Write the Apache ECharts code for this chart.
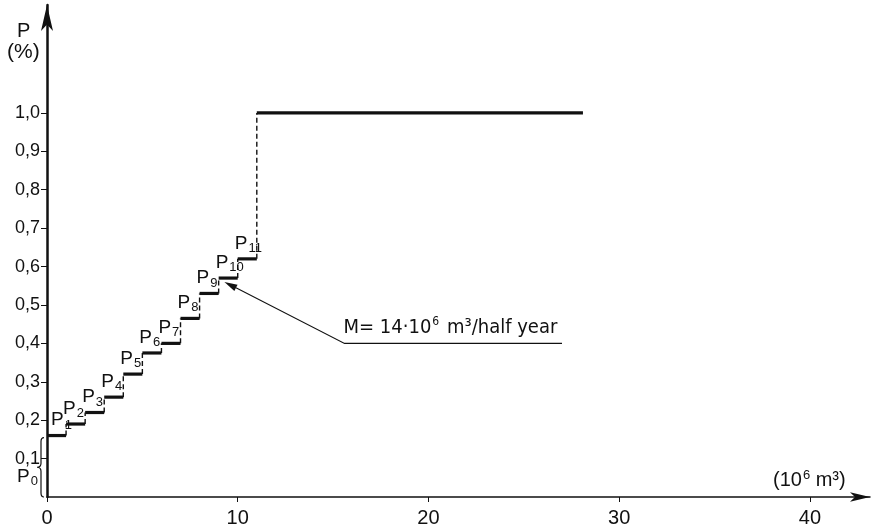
<!DOCTYPE html>
<html><head><meta charset="utf-8">
<script src="https://cdn.jsdelivr.net/npm/echarts@6/dist/echarts.min.js"></script>
<style>html,body{margin:0;padding:0;background:#fff}#c{width:874px;height:529px}</style>
</head><body><div id="c"></div>
<script>
const FONT = "'Liberation Sans', Arial, sans-serif";
const FONT2 = "'DejaVu Sans Condensed', 'DejaVu Sans', sans-serif";
const INK = '#111';

// ---- data ----
const stepStarts = [0, 1, 2, 3, 4, 5, 6, 7, 8, 9, 10];
const stepEnds   = [1, 2, 3, 4, 5, 6, 7, 8, 9, 10, 11];
const stepLevels = [0.16, 0.19, 0.22, 0.26, 0.32, 0.375, 0.40, 0.465, 0.53, 0.57, 0.62];
const stepNames  = ['1', '2', '3', '4', '5', '6', '7', '8', '9', '10', '11'];
const finalStart = 11, finalEnd = 28.1, finalLevel = 1.0;
const p0Level = 0.16;
const yTicks = [0.1, 0.2, 0.3, 0.4, 0.5, 0.6, 0.7, 0.8, 0.9, 1.0];
const xTicks = [0, 10, 20, 30, 40];
const annoX = [27.0, 15.6, 9.3];
const annoY = [0.40, 0.40, 0.56];

// ---- derived tables ----
const horizData = stepStarts.map((s, i) => [s, stepEnds[i], stepLevels[i]]);
horizData.push([finalStart, finalEnd, finalLevel]);
const riserData = [];
for (let i = 1; i < stepLevels.length; i++) riserData.push([stepStarts[i], stepLevels[i - 1], stepLevels[i]]);
riserData.push([finalStart, stepLevels[stepLevels.length - 1], finalLevel]);
const labelData = stepStarts.map((s, i) => [s, stepLevels[i]]);

const pRich = {
  p: { fontSize: 19, fontFamily: FONT, verticalAlign: 'top', lineHeight: 19 },
  s: { fontSize: 13, fontFamily: FONT, verticalAlign: 'top', lineHeight: 11, padding: [8, 0, 0, 1] }
};

const chart = echarts.init(document.getElementById('c'));
chart.setOption({
  backgroundColor: '#fff',
  animation: false,
  textStyle: { fontFamily: FONT, color: INK },
  grid: { left: 47, right: 4, top: 5, bottom: 32, containLabel: false },
  xAxis: {
    type: 'value', min: 0, max: 43.15,
    axisLine: { show: true, symbol: ['none', 'arrow'], symbolSize: [7, 20], lineStyle: { color: INK, width: 1.5 } },
    axisTick: { show: true, customValues: xTicks, length: 5, lineStyle: { color: INK, width: 1 } },
    axisLabel: { customValues: xTicks, fontSize: 20, margin: 11, color: INK, fontFamily: FONT },
    splitLine: { show: false }
  },
  yAxis: {
    type: 'value', min: 0, max: 1.281,
    axisLine: { show: true, symbol: ['none', 'arrow'], symbolSize: [9, 26], lineStyle: { color: INK, width: 2.5 } },
    axisTick: { show: true, customValues: yTicks, length: 6, lineStyle: { color: INK, width: 1 } },
    axisLabel: { customValues: yTicks, fontSize: 18, margin: 7, color: INK, fontFamily: FONT,
      formatter: v => v.toFixed(1).replace('.', ',') },
    splitLine: { show: false }
  },
  graphic: [
    { type: 'text', left: 17, top: 21, style: { text: 'P', fontSize: 20, fontFamily: FONT, fill: INK } },
    { type: 'text', left: 7, top: 42, style: { text: '(%)', fontSize: 21, fontFamily: FONT, fill: INK } },
    { type: 'text', left: 773, top: 469, style: { text: '{t|(10}{u|6}{t| m³)}', fontFamily: FONT, fill: INK,
        rich: { t: { fontSize: 20, fontFamily: FONT, verticalAlign: 'bottom', lineHeight: 22 },
                u: { fontSize: 13, fontFamily: FONT, verticalAlign: 'bottom', lineHeight: 22, padding: [0, 0, 8, 1] } } } }
  ],
  series: [
    {
      type: 'custom', data: horizData, encode: { x: [0, 1], y: 2 }, silent: true,
      renderItem: (params, api) => {
        const a = api.coord([api.value(0), api.value(2)]);
        const b = api.coord([api.value(1), api.value(2)]);
        return { type: 'line', shape: { x1: a[0], y1: a[1], x2: b[0], y2: b[1] },
          style: { stroke: INK, lineWidth: 3.2 } };
      }
    },
    {
      type: 'custom', data: riserData, encode: { x: 0, y: [1, 2] }, silent: true,
      renderItem: (params, api) => {
        const a = api.coord([api.value(0), api.value(1)]);
        const b = api.coord([api.value(0), api.value(2)]);
        return { type: 'line', shape: { x1: a[0], y1: a[1], x2: b[0], y2: b[1] },
          style: { stroke: INK, lineWidth: 1.4, lineDash: [5, 3] } };
      }
    },
    {
      type: 'custom', data: labelData, encode: { x: 0, y: 1 }, silent: true,
      renderItem: (params, api) => {
        const a = api.coord([api.value(0), api.value(1)]);
        return { type: 'text', x: a[0] + (params.dataIndex === 0 ? 4 : -3), y: a[1] - 6,
          style: { text: '{p|P}{s|' + stepNames[params.dataIndex] + '}', align: 'left', verticalAlign: 'bottom', fill: INK,
            rich: pRich } };
      }
    },
    {
      type: 'custom', data: [[0, p0Level]], encode: { x: 0, y: 1 }, silent: true,
      renderItem: (params, api) => {
        const top = api.coord([0, api.value(1)]);
        const bot = api.coord([0, 0]);
        const x = top[0] - 3, t = top[1] + 2, b = bot[1], m = (t + b) / 2;
        const d = `M ${x} ${t} Q ${x - 3} ${t} ${x - 3} ${t + 4} L ${x - 3} ${m - 4} Q ${x - 3} ${m} ${x - 7} ${m} ` +
                  `Q ${x - 3} ${m} ${x - 3} ${m + 4} L ${x - 3} ${b - 4} Q ${x - 3} ${b} ${x} ${b}`;
        return { type: 'group', children: [
          { type: 'path', shape: { pathData: d }, style: { stroke: INK, lineWidth: 1.2, fill: null } },
          { type: 'text', x: x - 27, y: m + 9,
            style: { text: '{p|P}{s|0}', align: 'left', verticalAlign: 'middle', fill: INK, rich: pRich } }
        ] };
      }
    },
    {
      type: 'custom', data: [[annoX[1], annoY[1]]], encode: { x: 0, y: 1 }, silent: true,
      renderItem: (params, api) => {
        const pts = annoX.map((v, i) => api.coord([v, annoY[i]]));
        const tip = pts[2], prev = pts[1];
        const dx = tip[0] - prev[0], dy = tip[1] - prev[1], L = Math.hypot(dx, dy);
        const ux = dx / L, uy = dy / L, hl = 13, hw = 3.5;
        const bx = tip[0] - ux * hl, by = tip[1] - uy * hl;
        return { type: 'group', children: [
          { type: 'polyline', shape: { points: [pts[0], pts[1], [bx, by]] }, style: { stroke: INK, lineWidth: 1.1, fill: null } },
          { type: 'polygon', shape: { points: [tip, [bx - uy * hw, by + ux * hw], [bx + uy * hw, by - ux * hw]] }, style: { fill: INK } },
          { type: 'text', x: pts[1][0] - 1, y: pts[1][1] - 6,
            style: { text: '{t|M= 14·10}{u|6}{t| m³/half year}', align: 'left', verticalAlign: 'bottom', fill: INK,
              rich: { t: { fontSize: 20, fontFamily: FONT2, verticalAlign: 'bottom', lineHeight: 22 },
                      u: { fontSize: 12, fontFamily: FONT2, verticalAlign: 'bottom', lineHeight: 22, padding: [0, 2, 9, 1] } } } }
        ] };
      }
    }
  ]
});
</script>
</body></html>
